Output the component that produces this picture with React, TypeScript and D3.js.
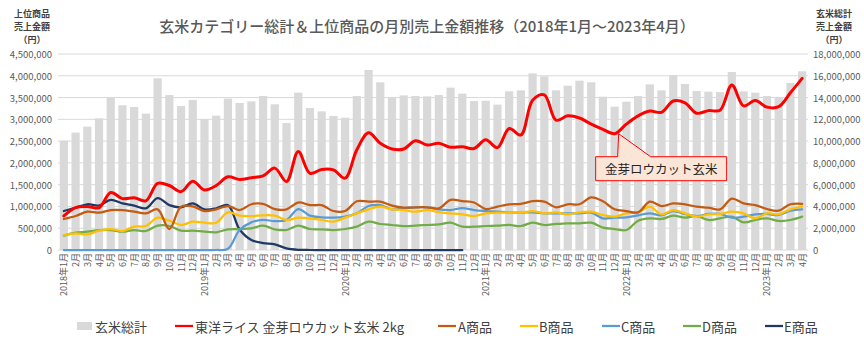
import React from "react";
import * as d3 from "d3";

const months: string[] = [];
for (let y = 2018; y <= 2023; y++) {
  for (let m = 1; m <= 12; m++) {
    if (y === 2023 && m > 4) break;
    months.push(m === 1 ? `${y}年${m}月` : `${m}月`);
  }
}

// 玄米総計 (millions of yen, right axis)
const totalM = [
  10.04, 10.78, 11.33, 12.09, 13.99, 13.29, 13.13, 12.52, 15.77, 14.23, 13.22, 13.78,
  12.03, 12.34, 13.9, 13.5, 13.65, 14.14, 13.38, 11.66, 14.45, 13.04, 12.73, 12.31,
  12.15, 14.14, 16.53, 15.4, 14.05, 14.2, 14.14, 14.11, 14.23, 14.91, 14.36, 13.68,
  13.71, 13.35, 14.57, 14.66, 16.22, 15.95, 14.66, 15.09, 15.55, 15.4, 14.08, 13.16,
  13.62, 14.14, 15.21, 14.66, 16.07, 15.24, 14.6, 14.54, 14.5, 16.35, 14.57, 14.45,
  14.14, 13.99, 15.34, 16.41,
];

// lines, thousands of yen (left axis)
const redK = [
  781, 975, 1000, 970, 1320, 1180, 1200, 1130, 1530, 1480, 1340, 1580,
  1380, 1480, 1680, 1620, 1660, 1700, 1880, 1570, 2260, 1760, 1850, 1840,
  1650, 2300, 2690, 2450, 2320, 2320, 2510, 2410, 2450, 2360, 2370, 2330,
  2530, 2350, 2790, 2640, 3440, 3560, 2980, 3080, 3030, 2890, 2770, 2670,
  2890, 3080, 3190, 3160, 3420, 3380, 3140, 3200, 3210, 3790, 3310, 3430,
  3280, 3290, 3610, 3940,
];
const aK = [
  712, 780, 880, 857, 918, 918, 880, 842, 934, 482, 995, 1000,
  895, 934, 1010, 918, 1050, 1060, 940, 934, 1090, 1030, 1030, 895,
  895, 1120, 1110, 1110, 1020, 972, 980, 980, 957, 1150, 1120, 1090,
  941, 995, 1050, 1060, 1120, 1110, 980, 1050, 1050, 1210, 1120, 934,
  895, 865, 1110, 1010, 1070, 1050, 995, 972, 934, 1180, 1070, 1030,
  941, 903, 1050, 1060,
];
const bK = [
  344, 383, 360, 444, 482, 436, 536, 551, 742, 673, 574, 650,
  627, 627, 865, 788, 780, 796, 788, 689, 742, 727, 689, 650,
  742, 842, 934, 995, 934, 918, 880, 918, 865, 842, 819, 780,
  842, 857, 865, 857, 895, 842, 865, 819, 865, 880, 804, 765,
  842, 865, 995, 819, 918, 842, 765, 819, 827, 880, 842, 727,
  842, 819, 934, 995,
];
const cK = [
  0, 0, 0, 0, 0, 0, 0, 0, 0, 0, 0, 0,
  0, 0, 30, 460, 635, 689, 665, 689, 940, 788, 750, 742,
  765, 842, 1010, 1030, 934, 957, 980, 980, 934, 918, 964, 918,
  895, 880, 865, 857, 865, 842, 842, 842, 842, 857, 727, 742,
  750, 796, 842, 796, 895, 827, 780, 827, 827, 742, 765, 819,
  827, 804, 903, 934,
];
const dK = [
  329, 398, 421, 459, 459, 421, 459, 436, 559, 551, 444, 444,
  421, 406, 474, 482, 497, 559, 474, 459, 559, 482, 474, 459,
  482, 536, 650, 597, 574, 551, 559, 574, 589, 627, 536, 536,
  551, 559, 574, 551, 627, 574, 597, 612, 612, 627, 513, 482,
  459, 673, 727, 712, 788, 742, 780, 689, 727, 765, 635, 689,
  727, 666, 689, 765,
];
const eK: (number | null)[] = [
  895, 972, 1050, 1020, 1150, 1070, 1020, 957, 1190, 1030, 980, 1070,
  934, 957, 1030, 470, 230, 160, 130, 38, 5, 0, 0, 0,
  0, 0, 0, 0, 0, 0, 0, 0, 0, 0, 0,
];

const leftTicks = [0, 500000, 1000000, 1500000, 2000000, 2500000, 3000000, 3500000, 4000000, 4500000];
const rightTicks = [0, 2000000, 4000000, 6000000, 8000000, 10000000, 12000000, 14000000, 16000000, 18000000];

const seriesNames = ["東洋ライス 金芽ロウカット玄米 2kg", "A商品", "B商品", "C商品", "D商品", "E商品"];
const seriesColors = ["#FF0000", "#C55A11", "#FFC000", "#5B9BD5", "#70AD47", "#203864"];
const barName = "玄米総計";
const title = "玄米カテゴリー総計＆上位商品の月別売上金額推移（2018年1月～2023年4月）";
const calloutText = "金芽ロウカット玄米";
const leftAxisTitle = ["上位商品", "売上金額", "（円）"];
const rightAxisTitle = ["玄米総計", "売上金額", "（円）"];

const W = 864, H = 351;
const L = 58, R = 808, T = 54, B = 250;
const FONT = "'Noto Sans CJK JP', 'Noto Sans', sans-serif";
const fmt = d3.format(",");

export default function App() {
  const idx = months.map((_, i) => i);
  const x = d3.scaleBand<number>().domain(idx).range([L, R]).paddingInner(0.3).paddingOuter(0.15);
  const cx = (i: number) => (x(i) as number) + x.bandwidth() / 2;
  const yL = d3.scaleLinear().domain([0, 4500000]).range([B, T]);
  const yR = d3.scaleLinear().domain([0, 18000000]).range([B, T]);

  const lineSeries = [redK, aK, bK, cK, dK, eK];
  const lineGen = d3
    .line<number | null>()
    .defined((d) => d != null)
    .x((_, i) => cx(i))
    .y((d) => yL((d as number) * 1000))
    .curve(d3.curveCatmullRom.alpha(0.5));

  // callout anchor on red line
  const ai = 47;
  const tipX = cx(ai) + 4;
  const tipY = yL(redK[ai] * 1000);
  const bx0 = tipX - 23, bx1 = tipX + 108, by0 = tipY + 23, by1 = tipY + 47;
  const calloutPath = `M${bx0},${by0} L${tipX - 1},${by0} L${tipX},${tipY} L${tipX + 32},${by0} L${bx1},${by0} L${bx1},${by1} L${bx0},${by1} Z`;

  // legend layout
  const legendY = 326;
  const legendItems = [
    { kind: "bar", label: barName, color: "#D9D9D9", sx: 77, tx: 95 },
    ...seriesNames.map((n, k) => ({
      kind: "line",
      label: n,
      color: seriesColors[k],
      sx: [175, 438, 520, 602, 683, 765][k],
      tx: [195, 458, 539, 621, 702, 784][k],
    })),
  ];

  return (
    <svg width={W} height={H} style={{ position: "absolute", left: 0, top: 0, background: "#fff" }} fontFamily={FONT}>
      <rect x={0} y={0} width={W} height={H} fill="#fff" />
      <text x={427} y={25} textAnchor="middle" dominantBaseline="central" fontSize={15} fill="#595959" fontWeight={500}>
        {title}
      </text>
      {leftAxisTitle.map((t, k) => (
        <text key={"lt" + k} x={32} y={13 + k * 13} textAnchor="middle" dominantBaseline="central" fontSize={9} fontWeight={700} fill="#404040">
          {t}
        </text>
      ))}
      {rightAxisTitle.map((t, k) => (
        <text key={"rt" + k} x={834} y={13 + k * 13} textAnchor="middle" dominantBaseline="central" fontSize={9} fontWeight={700} fill="#404040">
          {t}
        </text>
      ))}
      {leftTicks.map((t) => (
        <g key={"g" + t}>
          {t > 0 && <line x1={L} x2={R} y1={yL(t)} y2={yL(t)} stroke="#D9D9D9" strokeWidth={1} />}
          <text x={52} y={yL(t)} textAnchor="end" dominantBaseline="central" fontSize={9.5} fill="#595959">
            {fmt(t)}
          </text>
        </g>
      ))}
      {rightTicks.map((t) => (
        <text key={"r" + t} x={813} y={yR(t)} textAnchor="start" dominantBaseline="central" fontSize={9.5} fill="#595959">
          {fmt(t)}
        </text>
      ))}
      {totalM.map((v, i) => (
        <rect key={"b" + i} x={x(i)} y={yR(v * 1e6)} width={x.bandwidth()} height={B - yR(v * 1e6)} fill="#D9D9D9" />
      ))}
      <line x1={L} x2={R} y1={B} y2={B} stroke="#D9D9D9" strokeWidth={1} />
      {lineSeries
        .map((s, k) => ({ s, k }))
        .reverse()
        .map(({ s, k }) => (
          <path
            key={"l" + k}
            d={lineGen(s.concat(Array(months.length - s.length).fill(null))) || ""}
            fill="none"
            stroke={seriesColors[k]}
            strokeWidth={k === 0 ? 3 : 2.25}
            strokeLinejoin="round"
            strokeLinecap="round"
          />
        ))}
      {months.map((m, i) => (
        <text
          key={"x" + i}
          transform={`translate(${cx(i)},${253}) rotate(-90)`}
          textAnchor="end"
          dominantBaseline="central"
          fontSize={9}
          fill="#595959"
        >
          {m}
        </text>
      ))}
      <path d={calloutPath} fill="#FBE5D6" stroke="#FF0000" strokeWidth={1} />
      <text x={(bx0 + bx1) / 2} y={(by0 + by1) / 2} textAnchor="middle" dominantBaseline="central" fontSize={12.5} fill="#262626">
        {calloutText}
      </text>
      {legendItems.map((it, k) => (
        <g key={"lg" + k}>
          {it.kind === "bar" ? (
            <rect x={it.sx} y={legendY - 4} width={15} height={8} fill={it.color} />
          ) : (
            <line x1={it.sx} x2={it.sx + 18} y1={legendY} y2={legendY} stroke={it.color} strokeWidth={2.25} />
          )}
          <text x={it.tx} y={legendY} dominantBaseline="central" fontSize={13} fill="#404040">
            {it.label}
          </text>
        </g>
      ))}
    </svg>
  );
}
